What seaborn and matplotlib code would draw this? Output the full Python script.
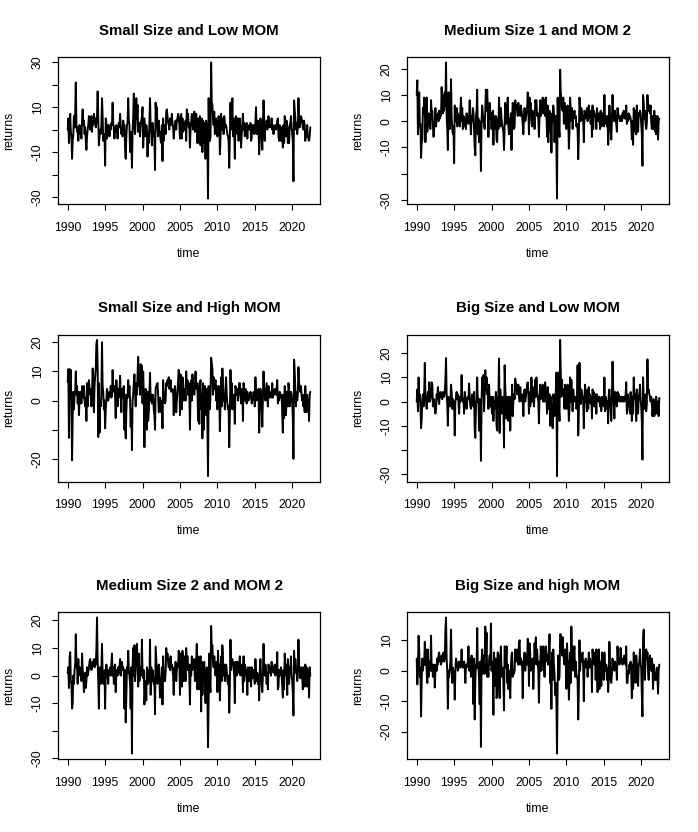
import numpy as np
import pandas as pd
import matplotlib
matplotlib.use("Agg")
import matplotlib.pyplot as plt
import seaborn as sns

# ---------------- data (monthly returns, Jan 1990 - Jun 2022) ----------------
start_year = 1990

small_low = [
    0, 5, -6, 1, 7, -1, -3, -13, -5, -2, 6, 1,
    8, 21, 2, -1, 1, -5, 0, 2, -2, 0, -4, 4,
    9, 2, 4, -2, 1, -5, -9, -3, 0, 2, 6, 5,
    0, 2, 6, -1, 5, 2, 7, 4, 5, 1, 3, 6,
    17, 5, -7, -3, 0, -2, 2, 14, 6, -5, -3, -2,
    -16, 5, 3, -4, 1, 2, 2, -3, 1, 0, 3, 2,
    12, 3, 0, -4, 1, -1, 2, 0, -4, 1, 3, 1,
    7, 2, -2, 1, -3, 4, 1, 2, -8, -13, -3, 2,
    3, 14, 4, 2, -10, -1, -4, -17, -1, 5, 16, 2,
    -2, 3, 14, 5, 11, -1, 0, 3, -3, 2, 4, 6,
    10, -8, -2, 5, 1, -3, 2, 0, -12, -2, -6, 3,
    14, 0, -1, -7, 3, 0, -2, -4, -18, 12, 5, 10,
    0, -3, 4, -2, -1, -5, -6, 2, -14, 5, -5, 0,
    2, -2, 8, 9, 6, 3, 2, 0, 5, 4, 2, 7,
    3, 1, -4, 0, 2, 4, 0, 4, 5, 7, 4, 3,
    -4, 6, 7, -4, 5, -1, 3, 0, 0, 4, -5, 9,
    6, 7, 1, 3, -8, 0, 3, 7, 6, 0, 1, 8,
    -1, 2, 7, 4, -6, 4, 5, -6, 6, -7, 0, 5,
    -10, 4, -6, -2, 3, -13, 4, 0, -6, -30.7, 14, -5,
    -5, -3, 29.9, 12, 11, 5, 2, 8, -2, 3, 5, 0,
    -3, 2, 6, 4, -11, -4, 7, 2, 0, 5, -2, 6,
    3, 1, 2, 0, -2, -3, -5, -17, -4, 12, 0, 2,
    14, -3, 5, -1, -13, 5, 6, 0, -2, 5, -5, 3,
    5, 0, -8, -2, 2, 7, 0, 3, -3, 2, 2, 3,
    -4, 1, 1, 2, 0, 3, -5, -4, 2, 1, 2, -2,
    0, 3, 10, -2, 3, 4, 0, -11, -4, 5, 2, -3,
    -9, 2, 13, 5, -5, 3, 2, 4, 0, 1, 6, 2,
    1, 2, 1, 5, 0, 2, -2, 1, 1, 2, 0, 1,
    4, 5, -3, -5, 2, 0, -5, 1, -2, -8, 2, -6,
    6, 2, -3, 4, 0, -6, 1, -6, 2, 3, 6, 1,
    -2, -5, -23, 13, 9, 5, 0, 3, -2, 1, 14, 5,
    1, 4, 6, 5, 3, 1, 0, 4, 2, -5, -1, -3,
    2, -3, -4, -5, -3, 1,
]

medium1_mom2 = [
    10, 15.6, -5, 3, 11, -2, -1, -14, -8, -7, 5, 3,
    9, 6, -8, 2, 9, -4, 0, 3, 1, -2, -3, 8,
    3, 4, -2, -6, -3, 0, 5, -2, 2, 1, 3, 0,
    4, 1, 3, 2, 13, 5, 3, 10, 4, 11, 6, 22.4,
    2, -3, -11, 11, 2, -3, 1, 16, 2, -3, -5, -2,
    -16, 6, 0, 2, 5, -2, 3, 1, 2, -2, 4, 9,
    0, 5, -3, 2, 0, -2, 1, -3, 3, 0, 2, -1,
    2, 8, 0, -5, 2, 0, 5, 3, -3, -10, -13, 2,
    4, 12, -5, 1, -8, 0, -3, -19, 0, 6, 3, 0,
    -1, -3, 5, 12, 4, 12, 5, -6, 2, 7, 1, 3,
    -3, 2, 4, -9, 2, -2, -3, 2, -7, -8, 1, -3,
    9, 0, -2, 5, 1, -1, -3, -4, -11, -2, 7, 3,
    -1, 0, 9, -2, -5, 1, -4, 3, -11, 1, 7, 5,
    -3, -2, 8, 5, 6, 4, 2, 7, 3, 5, 2, 6,
    4, 2, -1, -5, 2, 5, 0, 1, 3, 4, 11, 6,
    -5, 9, 6, 7, 0, -2, 4, 1, 3, -3, 8, 7,
    8, 2, 3, 1, -6, 2, 8, 2, 6, 3, 9, 3,
    3, 8, 2, 9, 3, -6, 6, -8, 2, 4, -4, 3,
    -12, 2, 0, 6, 3, -8, -1, 2, -10, -29.5, 9, -4,
    -2, -6, 19.6, 11, 8, 5, 4, 9, -1, 7, 0, 3,
    -3, 5, 6, 2, -10.5, -4, 9, 4, 0, 5, -3, 2,
    2, 4, 1, 2, -2, -1, -3, -14.5, -6, 9, 5, 0,
    5, 3, 2, 0, -8, 4, 3, 1, 2, 5, 0, 1,
    6, 2, 3, -1, 4, -6, 6, -3, 4, 3, 2, 2,
    -3, 5, 1, 0, 3, 2, -3, 4, -2, 1, 3, 0,
    -2, 10, -1, 2, 1, -2, 2, -9, -3, 6, 1, -3,
    -7, 0, 10, 3, 2, 0, 4, 1, -1, -4, 5, 3,
    2, 1, 0, 2, 1, 0, 3, 2, 4, 1, 2, 1,
    6, -1, 2, 0, 3, 1, 2, 1, -1, -7, 0, -9,
    5, 2, -4, 4, -5, 6, 0, -4, 3, 2, 4, 3,
    -1, -5, -17, 10, 7, 1, 4, -1, -3, -1, 10, 4,
    4, 6, 3, 6, 0, -3, 1, 2, -3, 4, -4, 2,
    -5, -3, 2, -7, 0, 1,
]

small_high = [
    6.5, 10.7, -12.8, 10.8, 4, 10.5, -3, -20.5, -5, 3, -3, 2,
    3, 10, 2, 5, -1, 3, -5, 0, 3, 2, -1, 5,
    3, 1, 5, 0, -2, 1, -7, 6, -2, 2, 7, 4,
    2, 4, -2, 3, 11, 7, -4, 5, 8, 11, 19.5, 20.8,
    12, -12.5, 6, -11, 0, -2, 2, 20, 5, 3, -3, 0,
    -9.5, -3, 0, 4, 2, 0, 1, 3, 2, 5, 1, 2,
    10.5, 4, 3, 5, 1, -6, 7, 2, -2, 4, 1, 3,
    8.5, 2, -4, 4, 1, 3, 5, -10, 2, -13, -4, 2,
    1, 7, 2, 5, 0, -9, -3, -17, 0, 2, 6, 9,
    4, -2, 6, 2, 9, 15, 5, 8, 2, 12.5, 8, 12,
    -1, 10, 2, -16, -2, 4, 0, -10, 3, -7, -4, 2,
    9.5, 0, 2, -1, 1, 2, -3, -5, -10, 4, 5, 5.5,
    6, 2, -4, 0, 1, -2, -4, 0, -9.5, 7, 3, 0,
    -1, 0, 6, 5, 7, 6, 8, 4, 5, 7, 3, 4,
    4, 3, -5, 2, 5, 1, -4, 0, 3, 7, 10.5, 8,
    -5, 9, 2, -3, 8, 7, 0, 2, 4, 0, 10, 5,
    7, 2, 6, 3, -10, 3, 7, 0, 9, 6, 4, 2,
    5, 10, 5, 4, 6, -7, 5, -8, 6, 7, -3, 2,
    -13, 6, -10, 3, 5, -3, -5, 4, -8, -25.9, 5, -2,
    -3, 2, 14.7, 13, 11, 2, 8, 6, 4, 7, 0, 5,
    -3, 3, 5, 2, -10.5, -1, 8, -2, 11, 5, 0, 2,
    -3, 4, 8, 2, -1, -3, -2, -16, -5, 10.5, 2, 6,
    -3, 2, 2, -1, -8, 5, 3, 2, 4, 0, 3, 6,
    6, 2, -1, 4, 3, -7, 6, 3, 0, 4, 2, -1,
    3, 1, 0, 2, 1, 3, 2, -1, 0, 1, 3, 2,
    -2, 8, 2, 0, 1, 2, 4, -11, -3, 4, 2, -1,
    -9, 1, 10, 2, 4, 0, 3, 6, 2, -2, 5, 1,
    3, 2, 1, 2, 6, 1, 3, 2, 4, 3, 2, 4,
    7, -1, 2, 0, 3, 2, 1, 2, -5, -11, 2, -6,
    5, 2, -5, 3, 0, -2, 6, 4, -2, 1, 3, 2,
    -1, -6, -20, 14, 10, 4, -2, 3, 0, 2, 11.5, 6,
    5, 3, 5, 2, 0, 2, -2, 0, -4, 5, -3, -4,
    2, -3, 0, -7, 2, 3,
]

big_low = [
    0, 5, -4, 10, 1, 3, -2, -11, -7, 1, 3, -2,
    3, 16, 2, 0, -3, 2, 4, 0, 8, 0, 1, 3,
    8, 7, -2, 0, 1, -3, -5, -3, 3, 1, 6, 1,
    -1, 3, 4, 2, 3, 1, 4, 3, 2, 4, 9, 18,
    3, -1, -10, 2, 0, 1, -2, 7, 4, -3, 1, -3,
    0, -14, 0, 2, 4, 1, 3, 0, -5, 2, 0, 1,
    11, 2, 0, 1, -5, 4, 2, 1, -3, 0, 2, 1,
    7.5, 2, -2, -3, 1, 3, 0, -2, 4, -12, -15, -2,
    2, 10, 0, 1, -12, 1, -3, -24.5, 0, 10, 3, 11,
    -4, 3, 13, 5, 10, 3, 4, -3, 7, 0, -2, 2,
    -2, -5, 2, -8, 0, -3, 1, 4, -10, -12, 1, 3,
    17.8, -13, 5, -1, -5, 0, 2, -3, -19, 15, 6, 0,
    -7, 1, 2, -8, -3, 2, -12, 2, -5, 7, -6, 0,
    3, 1, 9.5, 7, 7, 3, 5, 7, 3, 0, 6, 3,
    2, 0, 3, -6, 3, 5, 0, 2, 4, 7, 8, 4,
    -5, 4, -2, 0, 10, 0, 6, 3, -2, 4, 9, 2,
    10, 3, 2, 0, -9, 3, 7, 1, 2, 4, 7, 0,
    2, 0, 8, 2, 4, -5, 6, 2, -3, 3, -10, 2,
    -5, -1, -11, 3, 1, -6, 2, 4, 12, -30.8, 12, -6,
    -3, -8, 25.5, 12, 2, 9, 3, 5, 2, -3, 7, 0,
    -3, 3, 7, 0, -8, -3, 10, 0, 9, 2, -4, 5,
    2, 1, 0, 2, -3, -2, 15, -14, -4, 16, 3, -1,
    5, 3, 2, 0, -11, 2, 7, 0, 2, -4, 5, -3,
    6, 0, 3, -1, 2, -7, 5, 2, 4, -2, 0, 3,
    -5, 3, 1, 2, 0, 2, -2, 1, -4, 2, 1, 0,
    -2, 10, -4, 2, 1, -3, 0, -9, 3, 5, 0, -3,
    -8, 2, 16.5, 6, -1, -7, 4, 3, 1, -2, 4, 2,
    3, 0, 1, 2, 0, 2, 1, 0, 2, 0, 1, 3,
    8, -5, -3, 3, -1, 1, -5, 4, 1, -8, 2, -5,
    10, 4, 1, 3, -8, 5, 0, -5, 2, 3, 7, 1,
    -2, -8, -24, 10, 0, -3, 2, 3, -4, -1, 17.5, 4,
    5, 3, 2, 0, 2, 0, -6, -3, 1, -6, 0, -5,
    2, -1, -5, 0, -6, 1.5,
]

medium2_mom2 = [
    1, 3, -4.5, 6.5, 8.5, -2, -3, -12, -10, 0, -3, 2,
    4, 15, 4, 3, -3, 6, 0, 3, 1, 2, -2, 8,
    2, 0, -6, -3, 1, -4.5, -2, 3, 0, 1, 3, 5,
    6, 4, 2, 3, 5, 4, 6, 3, 5, 4, 9.5, 21.1,
    5, -2, -12, 3, 1, -3, 2, 11.5, 0, -3, 1, 2,
    -12, 1, 4, 2, 0, -3, 2, 1, 3, 0, 4, 8,
    0, 3, -3, 2, 4, -6, 1, 2, 0, 3, 1, 3,
    6, 0, 4, 5, 2, 3, 1, -12, 2, -17, -8, 3,
    1, 9, 2, 0, -3, -12, 3, -28.3, 3, 10, 0, 11,
    -2, 3, 5, 11.5, 5, -4, 8, -2, 3, 0, 2, 13,
    0, -1, 2, -10.5, -6, -2, -9, 3, 0, -3, 2, -2,
    13, -7, 3, -2, 2, 0, -3, -1, -14, 10.5, 6, 2,
    -3, 0, 4, 0, -8, -4, -3, 3, -10.5, 7, 0, -2,
    -2, 1, 10, 6, 8, 5, 3, 6, 2, 7, 3, 4,
    2, 0, -7, 3, 0, 5, -2, 2, 4, 3, 9, 6,
    -7, 8, 5, -4, 9, 4, -2, 7, 3, -2, 10, 2,
    7, 2, 4, 0, -10.5, 4, 0, 7, 2, 5, 3, 6,
    -2, 3, 5, 11.5, -5, 7, 3, -5, 4, 7, -13, 5,
    -7, 0, 3, 5, -2, -10, 1, 3, -8, -26, -8, 8,
    -4, -6, 18, 10, 11, 5, 3, 7, 4, 0, 5, 3,
    -6, 9, 2, 4, -9, 0, 7, -2, 11, 5, 0, 4,
    -2, 3, 4, 2, -2, -3, 0, -13.5, -4, 13, 2, 6,
    6, 5, 3, 0, -10, 5, 3, 0, 5, 2, 1, 4,
    7, 0, 3, 1, 4, -6, 7, -2, 4, 3, 0, 2,
    -7, 3, 0, -2, 3, 0, -4, 3, -1, 1, 2, 0,
    -3, 6, 1, -2, 1, -3, 0, -9, 2, 6, 0, -3,
    -6, 0, 11.5, 3, 0, 4, 2, -3, 1, -5, 4, 2,
    1, 3, 0, 5, 2, 3, 1, 2, 4, 0, 3, 2,
    8.5, -5, -4, 2, 0, 1, 3, 0, -4, -8, 2, -5,
    8, 2, 0, 4, -7, 6, 2, -3, 3, 1, 7, 0,
    -2, -6, -14.5, 9, 1, 6, 3, 1, -2, 0, 13, 4,
    2, -1, 1, 3, 0, -5, 3, 0, -4, 4, -2, 3,
    -4, 0, 2, -8, 3, 0,
]

big_high = [
    4, -4.5, 2, 11.5, 7, -2, 1, -15, -3, 4, 0, 3,
    2, 9.5, 2, 7, 0, -4, 7, -2, 1, 3, 0, 11.5,
    0, 2, -2, 0, 2, -5.5, 0, 2, 0, 4, 2, 5,
    6, 3, 4, 2, 5, 3, 4, 6, 3, 4, 13, 17.5,
    4, 0, -12.5, 0, -2, 0, 3, 13.5, 2, -4, 1, -2,
    0, -9.5, 0, 4, 3, 2, 0, 1, 3, 2, 1, 2,
    7, 2, 1, 2, 3, 1, -4, 2, 1, 2, 3, 8,
    0, 4, 3, -2, 5, 3, 2, -11, 4, -16, -3, 2,
    1, 14, 1, 2, -3, -11, 3, -25, 3, 7, -1, 5,
    3, -1, 14.5, 5, 12.5, -2, 1, -2, 3, 5, 2, 15.5,
    0, 3, 1, -14.5, 6, -5, 2, 4, -9, -8, 6, -6,
    5, -9, 3, 8, 0, -2, 1, -4, -13, 8, 7, 1,
    8, -4, 2, -6, 0, -4, -9, 1, 5, 6, -2, 0,
    -1, 0, 7, 3, 5, 7, 6, 2, 9, 10, 2, 4,
    2, 3, -9, 2, 4, 6, 0, 3, 5, 2, 10.5, 8,
    -5, 9, 6, 0, 3, 2, 4, -6, 2, 9, 4, 11,
    2, 7, 3, 0, -10.5, 3, 0, 8, 0, 5, 3, 8,
    2, -2, 4, 8, 6, 3, 5, 2, 6, 12, -4, 3,
    -12.5, 6, -3, 7, 2, -1, -8, -4, -10, -27.2, -5, 5,
    -3, -2, 12, 12, 9, 5, 11, 6, 4, 2, 7, 5,
    -6, 9, 4, 2, -9.5, -3, 6, -4, 14.5, 3, 8, 0,
    6, 8, -2, 3, -1, -2, -3, -16, -6, 10, 0, 5,
    3, 5, 6, 1, -10, 3, 2, 4, 1, 3, -2, 1,
    6, 1, 4, 2, 3, -7, 7, 3, 5, 2, 6, -3,
    7, 2, -7, 3, 7, -6, 0, 3, -5, 6, 0, -1,
    -3, 6, 0, 1, 2, -3, 1, -7, -2, 9.5, 2, -3,
    -4, -1, 4, 1, 2, 0, 3, 1, 2, -3, 8, 3,
    4, 2, 3, 7.5, 3, 4, 2, 3, 4, 5, 3, 2,
    8, -4, -4, 0, -1, 2, 1, 3, -1, -9, 2, -6,
    6, 2, 4, -4, 5, 2, 1, -5, 2, 3, 7, 2,
    1, -8, -15, 10.5, 13.5, 4, -3, 5, 7, 4, 6, 0,
    -3, 4, 5, 2, 0, 4, 2, -6, 2, 0, -3, -1,
    -3, 1, -2, -7.5, 0, 2,
]

titles = [
    "Small Size and Low MOM",
    "Medium Size 1 and MOM 2",
    "Small Size and High MOM",
    "Big Size and Low MOM",
    "Medium Size 2 and MOM 2",
    "Big Size and high MOM",
]
series_list = [small_low, medium1_mom2, small_high, big_low, medium2_mom2, big_high]

x_ticks = [1990, 1995, 2000, 2005, 2010, 2015, 2020]
x_tick_labels = ["1990", "1995", "2000", "2005", "2010", "2015", "2020"]

y_ticks = [
    [-30, -20, -10, 0, 10, 20, 30],
    [-30, -20, -10, 0, 10, 20],
    [-20, -10, 0, 10, 20],
    [-30, -20, -10, 0, 10, 20],
    [-30, -20, -10, 0, 10, 20],
    [-20, -10, 0, 10],
]
y_tick_labels = [
    ["-30", "", "-10", "", "10", "", "30"],
    ["-30", "", "-10", "0", "10", "20"],
    ["-20", "", "0", "10", "20"],
    ["-30", "", "-10", "0", "10", "20"],
    ["-30", "", "-10", "0", "10", "20"],
    ["-20", "-10", "0", "10"],
]

# ---------------- long table ----------------
frames = []
for title, s in zip(titles, series_list):
    n = len(s)
    frames.append(pd.DataFrame({
        "panel": title,
        "time": start_year + np.arange(n) / 12.0,
        "returns": np.asarray(s, dtype=float),
    }))
df = pd.concat(frames, ignore_index=True)

# ---------------- style ----------------
sns.set_theme(style="ticks")
plt.rcParams["font.family"] = ["Liberation Sans", "DejaVu Sans"]
plt.rcParams["axes.edgecolor"] = "black"
plt.rcParams["axes.linewidth"] = 0.9
plt.rcParams["xtick.color"] = "black"
plt.rcParams["ytick.color"] = "black"

W, H = 698, 832
fig = plt.figure(figsize=(W / 100, H / 100), dpi=100)
fig.patch.set_facecolor("white")

cell_w, cell_h = 349, 277.5
box_left, box_top, box_w, box_h = 58, 57, 262, 147

for k, title in enumerate(titles):
    r, c = divmod(k, 2)
    left_px = c * cell_w + box_left
    top_px = r * cell_h + box_top
    ax = fig.add_axes([left_px / W, 1 - (top_px + box_h) / H, box_w / W, box_h / H])
    sub = df[df["panel"] == title]
    sns.lineplot(data=sub, x="time", y="returns", ax=ax, color="black",
                 linewidth=1.4, estimator=None, sort=False)
    ax.margins(x=0.04, y=0.04)
    ax.set_xticks(x_ticks)
    ax.set_xticklabels(x_tick_labels)
    ax.set_yticks(y_ticks[k])
    ax.set_yticklabels(y_tick_labels[k], rotation=90, va="center")
    ax.tick_params(axis="both", direction="out", length=4.3, width=0.8,
                   labelsize=8.8, colors="black")
    ax.tick_params(axis="x", pad=8.5)
    ax.tick_params(axis="y", pad=6.0)
    for sp in ax.spines.values():
        sp.set_visible(True)
        sp.set_color("black")
        sp.set_linewidth(0.9)
    ax.set_title(title, fontsize=10.8, fontweight="bold", pad=16, color="black")
    ax.set_xlabel("time", fontsize=8.8, color="black")
    ax.set_ylabel("returns", fontsize=8.8, color="black")
    ax.xaxis.label.set_va("center")
    ax.xaxis.set_label_coords(0.5, -50 / box_h)
    ax.yaxis.label.set_va("center")
    ax.yaxis.set_label_coords(-49 / box_w, 0.5)
    ax.grid(False)
    ax.set_facecolor("white")

fig.savefig("out.png", dpi=100, facecolor="white")
